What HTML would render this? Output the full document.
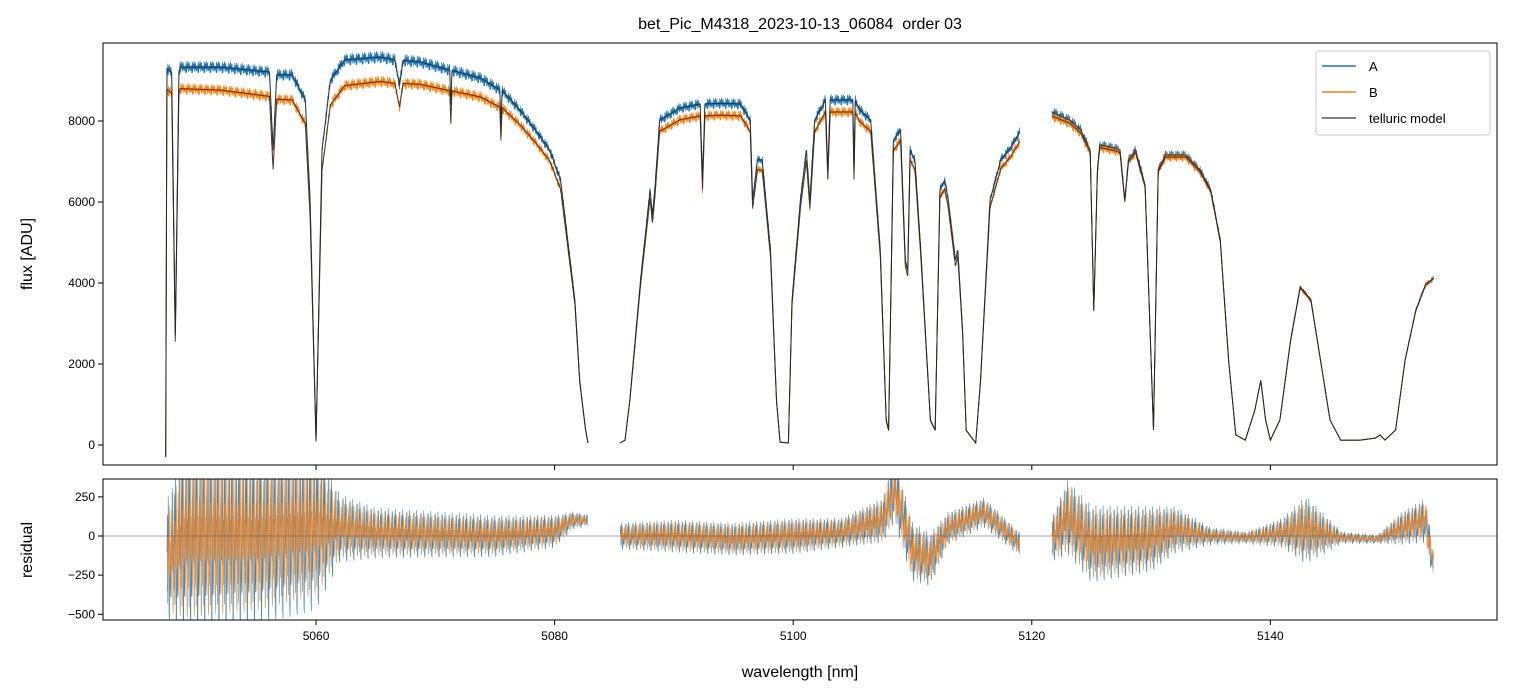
<!DOCTYPE html>
<html><head><meta charset="utf-8">
<style>
body{margin:0;background:#fff;}
svg{display:block;font-family:"Liberation Sans","DejaVu Sans",sans-serif;}
</style></head>
<body>
<svg id="chart" width="1513" height="696" viewBox="0 0 1513 696">
<defs>
<clipPath id="cTop"><rect x="103" y="43" width="1394" height="422"/></clipPath>
<clipPath id="cBot"><rect x="103" y="479" width="1394" height="141"/></clipPath>
</defs>
<text x="800" y="29" font-size="16" text-anchor="middle" style="white-space:pre">bet_Pic_M4318_2023-10-13_06084  order 03</text>
<g id="gtop"></g>
<g id="gbot"></g>
<text transform="translate(32,254) rotate(-90)" font-size="16" text-anchor="middle">flux [ADU]</text>
<text transform="translate(32,550) rotate(-90)" font-size="16" text-anchor="middle">residual</text>
<text x="800" y="677" font-size="16" text-anchor="middle">wavelength [nm]</text>
<g id="legend">
<rect x="1316" y="51" width="174" height="84" rx="3" fill="#fff" fill-opacity="0.85" stroke="#ccc"/>
<line x1="1322" y1="66" x2="1356" y2="66" stroke="#1f77b4" stroke-width="1.5"/>
<text x="1369" y="71" font-size="13">A</text>
<line x1="1322" y1="92" x2="1356" y2="92" stroke="#ff7f0e" stroke-width="1.5"/>
<text x="1369" y="97" font-size="13">B</text>
<line x1="1322" y1="118" x2="1356" y2="118" stroke="#333" stroke-width="1.2"/>
<text x="1369" y="123" font-size="13">telluric model</text>
</g>
</svg>
<script>
const wave = [5047.4,5047.5,5047.9,5048.2,5048.5,5048.6,5052,5056.1,5056.4,5056.7,5058,5059.1,5059.5,5060.0,5060.5,5061.2,5062.4,5065.4,5066.6,5067.0,5067.3,5068.7,5071.2,5071.3,5071.4,5073.8,5075.4,5075.5,5075.6,5077.1,5078.4,5079.6,5080.5,5081.7,5082.1,5082.6,5082.8,null,
5085.5,5085.9,5086.3,5087.2,5088.0,5088.2,5088.4,5088.8,5090.5,5092.2,5092.4,5092.6,5093.9,5095.6,5096.4,5096.6,5097.0,5097.4,5098.1,5098.6,5098.9,5099.6,5099.9,5100.6,5101.1,5101.4,5101.8,5102.7,5102.9,5103.1,5103.9,5105.0,5105.1,5105.2,5105.6,5106.5,5107.3,5107.8,5108.0,5108.4,5109.0,5109.4,5109.6,5109.8,5110.2,5110.7,5111.5,5111.9,5112.3,5112.7,5113.0,5113.6,5113.8,5114.2,5114.5,5115.3,5115.7,5116.5,5117.4,5118.2,5118.6,5119.0,null,
5121.7,5123.2,5124.1,5124.9,5125.2,5125.5,5125.7,5127.0,5127.4,5127.8,5128.1,5128.7,5129.5,5130.2,5130.6,5131.2,5132.9,5134.1,5135.0,5135.8,5136.5,5137.1,5137.9,5138.7,5139.2,5139.6,5140.0,5140.8,5141.7,5142.5,5143.4,5144.2,5145.0,5145.9,5147.5,5148.8,5149.2,5149.6,5150.5,5151.3,5152.2,5153.0,5153.7];
const fluxA = [-300,9300,9200,2700,9200,9330,9330,9210,7280,9140,9140,8520,6050,100,7280,9010,9510,9580,9510,8890,9500,9460,9260,8400,9250,9060,8770,7900,8750,8270,7780,7280,6540,3580,1600,370,50,null,
50,120,1110,4070,6300,5680,6300,8020,8320,8420,6540,8420,8440,8420,8020,6050,7040,7040,4810,1110,70,50,3580,6050,7280,6050,8020,8520,6790,8520,8520,8520,6790,8500,8270,8020,4810,620,370,7530,7780,4570,4320,7280,7040,4810,620,370,6300,6540,6050,4570,4810,2840,370,50,1600,6050,7040,7330,7530,7730,null,
8220,8020,7780,7280,3330,6790,7410,7330,7280,6050,7040,7280,6420,370,6790,7160,7160,6790,6300,5060,2100,250,120,860,1600,620,120,620,2590,3900,3580,2100,620,120,120,170,250,120,370,2100,3330,3950,4120];
const ratioW = [5047,5060,5075,5082,5090,5105,5119,5122,5155];
const ratioB = [0.945,0.93,0.95,0.97,0.965,0.965,0.97,0.99,1.0];
const residW    = [5047.5,5049,5055,5060,5062,5065,5075,5080,5081.5,5082.8,null,5085.5,5090,5095,5100,5104,5107.5,5108.5,5110,5111.5,5113,5116,5119,null,5121.7,5123,5125,5130,5132,5135,5138,5141,5143,5146,5149,5151,5153,5153.7];
const residMean = [-150,0,0,50,50,20,0,30,100,100,null,0,0,-20,0,20,100,300,-100,-150,50,150,-50,null,-20,120,-50,-20,40,0,-10,20,40,-10,-20,50,100,-200];
const residAmpA = [400,650,600,550,230,170,140,110,60,40,null,90,110,110,120,100,150,220,200,180,110,100,80,null,150,250,260,220,160,60,40,100,230,40,30,110,150,100];
const residAmpB = [350,550,500,450,200,150,120,100,50,30,null,80,100,100,110,90,140,200,180,160,100,90,70,null,140,230,230,200,140,50,35,90,200,35,25,100,130,90];
const xTicks = [5060,5080,5100,5120,5140];
const yTicksFlux = [0,2000,4000,6000,8000];
const yTicksResid = [250,0,-250,-500];

const NS='http://www.w3.org/2000/svg';
const X0=103,X1=1497,W0=5042.14,W1=5159.0;
const xs=w=>X0+(w-W0)/(W1-W0)*(X1-X0);
const yf=f=>445-f*0.0405;
const yr=r=>536-r*0.1565;
const JIT=[0.12,-0.85,0.4,-0.3,0.95,-0.6,0.05,0.7,-0.95,0.3,-0.15,0.55,-0.45,0.85,-0.7,0.2,-0.25];
function mk(tag,attrs,parent){const e=document.createElementNS(NS,tag);for(const k in attrs)e.setAttribute(k,attrs[k]);parent.appendChild(e);return e;}
function interp(xa,ya,x){for(let i=0;i<xa.length-1;i++){if(xa[i]==null||xa[i+1]==null)continue;if(x>=xa[i]&&x<=xa[i+1]){const t=(x-xa[i])/(xa[i+1]-xa[i]);return ya[i]+t*(ya[i+1]-ya[i]);}}if(x<xa[0])return ya[0];return ya[ya.length-1];}
function segments(ws){const segs=[];let cur=[];for(let i=0;i<ws.length;i++){if(ws[i]==null){if(cur.length)segs.push(cur);cur=[];}else cur.push(i);}if(cur.length)segs.push(cur);return segs;}
const gTop=document.getElementById('gtop'),gBot=document.getElementById('gbot');

function pathFrom(ws,vals,yfn){let d='',pen=false;for(let i=0;i<ws.length;i++){if(ws[i]==null||vals[i]==null){pen=false;continue;}d+=(pen?'L':'M')+xs(ws[i]).toFixed(1)+' '+yfn(vals[i]).toFixed(1);pen=true;}return d;}
const fluxB=fluxA.map((f,i)=>f==null?null:f*interp(ratioW,ratioB,wave[i]));
function noisyPath(vals,phase,rel){let d='';for(const s of segments(wave)){const ws=s.map(i=>wave[i]),fs=s.map(i=>vals[i]);let k=0;
 d+='M'+xs(ws[0]).toFixed(1)+' '+yf(fs[0]).toFixed(1);
 for(let w=ws[0];w<=ws[ws.length-1];w+=0.03){const f=interp(ws,fs,w);const v=f+Math.max(f,0)*rel*JIT[(k*5+phase)%17];d+='L'+xs(w).toFixed(2)+' '+yf(v).toFixed(1);k++;}}
 return d;}

const gT=mk('g',{'clip-path':'url(#cTop)'},gTop);
let p;
p=mk('path',{d:noisyPath(fluxA,0,0.016),fill:'none',stroke:'#1f77b4','stroke-width':0.8,'stroke-linejoin':'round'},gT);


p=mk('path',{d:noisyPath(fluxB,7,0.016),fill:'none',stroke:'#ff7f0e','stroke-width':0.8,'stroke-linejoin':'round'},gT);


p=mk('path',{d:pathFrom(wave,fluxA,yf),fill:'none',stroke:'#222','stroke-width':1,'stroke-opacity':0.8},gT);


p=mk('path',{d:pathFrom(wave,fluxB,yf),fill:'none',stroke:'#222','stroke-width':1,'stroke-opacity':0.8},gT);



const gB=mk('g',{'clip-path':'url(#cBot)'},gBot);
function residPath(amp,phase){let d='';
 for(const s of segments(residW)){const ws=s.map(i=>residW[i]),ms=s.map(i=>residMean[i]),as=s.map(i=>amp[i]);let k=0;
  for(let w=ws[0];w<=ws[ws.length-1];w+=0.035){const m=interp(ws,ms,w),a=interp(ws,as,w);const v=m+a*JIT[(k*7+phase)%17];d+=(k?'L':'M')+xs(w).toFixed(2)+' '+yr(v).toFixed(1);k++;}}
 return d;}
p=mk('path',{d:residPath(residAmpA,0),fill:'none',stroke:'#1f77b4','stroke-width':0.6,'stroke-opacity':0.85},gB);


p=mk('path',{d:residPath(residAmpB,5),fill:'none',stroke:'#ff7f0e','stroke-width':0.6,'stroke-opacity':0.85},gB);


p=mk('line',{x1:X0,x2:X1,y1:yr(0),y2:yr(0),stroke:'#555','stroke-width':0.6},gB);



p=mk('rect',{x:103,y:43,width:1394,height:422,fill:'none',stroke:'#000','stroke-width':1},gTop);


p=mk('rect',{x:103,y:479,width:1394,height:141,fill:'none',stroke:'#000','stroke-width':1},gBot);



for(const t of xTicks){const x=xs(t);
 mk('line',{x1:x,x2:x,y1:465,y2:470,stroke:'#000'},gTop);
 mk('line',{x1:x,x2:x,y1:620,y2:625,stroke:'#000'},gBot);
 const tx=mk('text',{x:x,y:640,'font-size':12,'text-anchor':'middle'},gBot);tx.textContent=t;
 
 }
for(const t of yTicksFlux){const y=yf(t);
 mk('line',{x1:98,x2:103,y1:y,y2:y,stroke:'#000'},gTop);
 const tx=mk('text',{x:95,y:y+4,'font-size':12,'text-anchor':'end'},gTop);tx.textContent=t;
 
 }
for(const t of yTicksResid){const y=yr(t);
 mk('line',{x1:98,x2:103,y1:y,y2:y,stroke:'#000'},gBot);
 const tx=mk('text',{x:95,y:y+4,'font-size':12,'text-anchor':'end'},gBot);tx.textContent=t===0?'0':(t<0?'\u2212'+(-t):t);
 
 }
</script>
</body></html>
